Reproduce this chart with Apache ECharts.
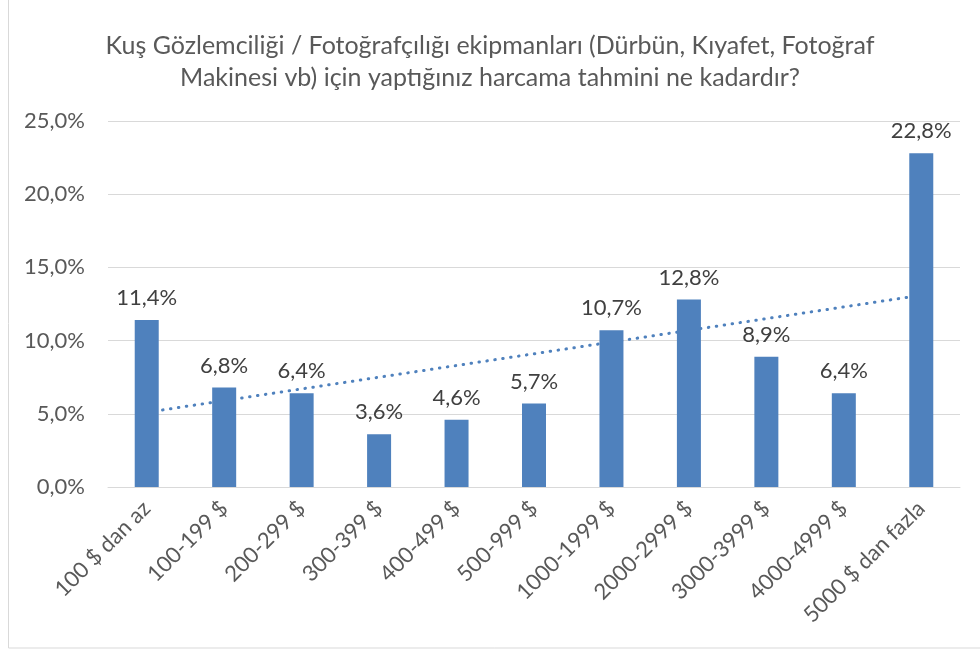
<!DOCTYPE html>
<html>
<head>
<meta charset="utf-8">
<script src="https://cdn.jsdelivr.net/npm/echarts@6/dist/echarts.min.js"></script>
<style>
  html, body { margin: 0; padding: 0; background: #fff; }
  #chart { width: 980px; height: 650px; }
</style>
</head>
<body>
<div id="chart"></div>
<script>
var categories = ['100 $ dan az', '100-199 $', '200-299 $', '300-399 $', '400-499 $', '500-999 $',
  '1000-1999 $', '2000-2999 $', '3000-3999 $', '4000-4999 $', '5000 $ dan fazla'];
var shares = [11.4, 6.8, 6.4, 3.6, 4.6, 5.7, 10.7, 12.8, 8.9, 6.4, 22.8];
// linear trendline, start and end values
var trendEnds = [5.1, 13.1];
var yTicks = [0, 5, 10, 15, 20, 25];

var font = 'Lato';
var trendData = categories.map(function (c, i) {
  if (i === 0) return trendEnds[0];
  if (i === categories.length - 1) return trendEnds[1];
  return null;
});

function pct(v) {
  return v.toFixed(1).replace('.', ',') + '%';
}

var chartDom = document.getElementById('chart');
var myChart = echarts.init(chartDom);
var option;

option = {
  animation: false,
  title: {
    text: 'Kuş Gözlemciliği / Fotoğrafçılığı ekipmanları (Dürbün, Kıyafet, Fotoğraf\nMakinesi vb) için yaptığınız harcama tahmini ne kadardır?',
    left: 'center',
    top: 25,
    textStyle: {
      color: '#595959',
      fontFamily: font,
      fontWeight: 'normal',
      fontSize: 25,
      lineHeight: 32
    }
  },
  graphic: [{
    type: 'rect',
    shape: { x: 8.5, y: -5, width: 1000, height: 653 },
    style: { fill: 'none', stroke: '#d9d9d9', lineWidth: 1 },
    silent: true
  }],
  grid: { left: 108, right: 20, top: 121, bottom: 163 },
  xAxis: {
    type: 'category',
    data: categories,
    axisLine: { lineStyle: { color: '#d9d9d9', width: 1 } },
    axisTick: { show: false },
    axisLabel: {
      rotate: 45,
      interval: 0,
      margin: 18,
      color: '#595959',
      fontFamily: font,
      fontSize: 22
    }
  },
  yAxis: {
    type: 'value',
    min: yTicks[0],
    max: yTicks[yTicks.length - 1],
    interval: 5,
    axisLine: { show: false },
    axisTick: { show: false },
    splitLine: { lineStyle: { color: '#d9d9d9', width: 1 } },
    axisLabel: {
      margin: 23,
      color: '#595959',
      fontFamily: font,
      fontSize: 22,
      formatter: function (v) { return pct(v); }
    }
  },
  series: [
    {
      type: 'bar',
      data: shares,
      barWidth: 24,
      itemStyle: { color: '#4f81bd' },
      label: {
        show: true,
        position: 'top',
        distance: 11,
        color: '#404040',
        fontFamily: font,
        fontSize: 22,
        formatter: function (p) { return pct(p.value); }
      },
      z: 3
    },
    {
      type: 'line',
      data: trendData,
      connectNulls: true,
      symbol: 'none',
      silent: true,
      lineStyle: { color: '#4f81bd', width: 3, type: [0.5, 7.5], cap: 'round' },
      z: 2
    }
  ]
};

option && myChart.setOption(option);
</script>
</body>
</html>
